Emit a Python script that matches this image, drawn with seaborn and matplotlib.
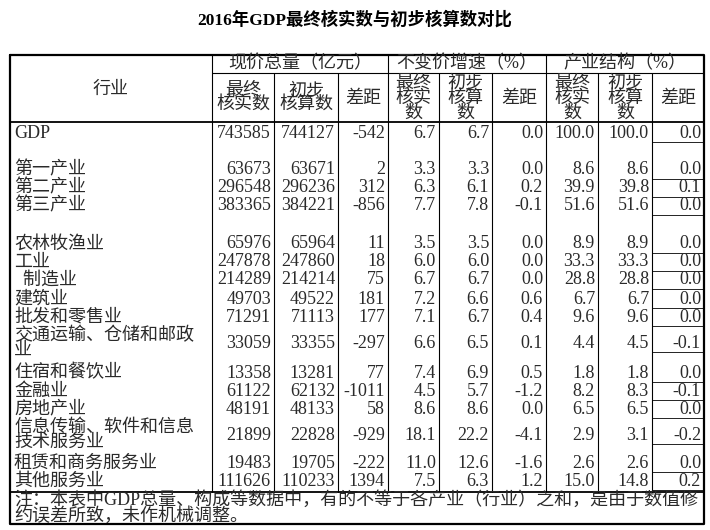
import matplotlib
matplotlib.use("Agg")
import matplotlib.pyplot as plt
import seaborn as sns

sns.set_theme(style="white")
plt.rcParams['font.family'] = ['Liberation Serif', 'Noto Sans CJK SC', 'DejaVu Sans']

title = '2016年GDP最终核实数与初步核算数对比'
industries = ['GDP', '第一产业', '第二产业', '第三产业', '农林牧渔业', '工业', '  制造业', '建筑业',
              '批发和零售业', '交通运输、仓储和邮政\n业', '住宿和餐饮业', '金融业', '房地产业',
              '信息传输、软件和信息\n技术服务业', '租赁和商务服务业', '其他服务业']
final_value = [743585, 63673, 296548, 383365, 65976, 247878, 214289, 49703, 71291, 33059, 13358, 61122, 48191, 21899, 19483, 111626]
prelim_value = [744127, 63671, 296236, 384221, 65964, 247860, 214214, 49522, 71113, 33355, 13281, 62132, 48133, 22828, 19705, 110233]
diff_value = [-542, 2, 312, -856, 11, 18, 75, 181, 177, -297, 77, -1011, 58, -929, -222, 1394]
final_growth = [6.7, 3.3, 6.3, 7.7, 3.5, 6.0, 6.7, 7.2, 7.1, 6.6, 7.4, 4.5, 8.6, 18.1, 11.0, 7.5]
prelim_growth = [6.7, 3.3, 6.1, 7.8, 3.5, 6.0, 6.7, 6.6, 6.7, 6.5, 6.9, 5.7, 8.6, 22.2, 12.6, 6.3]
diff_growth = [0.0, 0.0, 0.2, -0.1, 0.0, 0.0, 0.0, 0.6, 0.4, 0.1, 0.5, -1.2, 0.0, -4.1, -1.6, 1.2]
final_share = [100.0, 8.6, 39.9, 51.6, 8.9, 33.3, 28.8, 6.7, 9.6, 4.4, 1.8, 8.2, 6.5, 2.9, 2.6, 15.0]
prelim_share = [100.0, 8.6, 39.8, 51.6, 8.9, 33.3, 28.8, 6.7, 9.6, 4.5, 1.8, 8.3, 6.5, 3.1, 2.6, 14.8]
diff_share = [0.0, 0.0, 0.1, 0.0, 0.0, 0.0, 0.0, 0.0, 0.0, -0.1, 0.0, -0.1, 0.0, -0.2, 0.0, 0.2]
groups = ['现价总量（亿元）', '不变价增速（%）', '产业结构（%）']
sub_headers = ['最终\n核实数', '初步\n核算数', '差距']
note = '注：本表中GDP总量、构成等数据中，有的不等于各产业（行业）之和，是由于数值修\n约误差所致，未作机械调整。'

row_y = [133, 170, 188, 206, 244, 262, 280, 299, 317, 343, 373, 391, 409, 435, 463, 481]
col_x = [10, 212, 274, 338, 388, 439, 492, 546, 598, 652, 704]

fig = plt.figure(figsize=(7.1, 5.3), dpi=100)
ax = fig.add_axes([0, 0, 1, 1])
ax.set_xlim(0, 710)
ax.set_ylim(530, 0)
ax.axis('off')

kw = dict(color='#2a2a2a', fontsize=13)
ax.text(355, 20, title, ha='center', va='center', fontsize=12.5, fontweight='bold', color='black')

# frame and grid
ax.plot([10, 704, 704, 10, 10], [55, 55, 524, 524, 55], color='black', lw=1.6)
ax.plot([10, 704], [122, 122], color='black', lw=1.3)
ax.plot([10, 704], [492, 492], color='black', lw=1.3)
ax.plot([212, 704], [73, 73], color='black', lw=0.8)
for x in col_x[1:-1]:
    top = 55 if x in (212, 388, 546) else 73
    ax.plot([x, x], [top, 492], color='black', lw=0.8)
# boxes in last column
for y in row_y:
    ax.plot([652, 704], [y + 9, y + 9], color='black', lw=0.6)

ax.text(111, 89, '行业', ha='center', va='center', **kw)
for g, name in enumerate(groups):
    ax.text((col_x[1 + 3 * g] + col_x[4 + 3 * g]) / 2, 64, name, ha='center', va='center', **kw)
    for k, h in enumerate(sub_headers):
        cx = (col_x[1 + 3 * g + k] + col_x[2 + 3 * g + k]) / 2
        lab = h if g == 0 or k == 2 else h.replace('核实数', '核实\n数').replace('核算数', '核算\n数')
        ax.text(cx, 98, lab, ha='center', va='center', linespacing=0.85, **kw)

columns = [final_value, prelim_value, diff_value, final_growth, prelim_growth, diff_growth,
           final_share, prelim_share, diff_share]
for i, y in enumerate(row_y):
    ax.text(14, y, industries[i], ha='left', va='center', linespacing=0.85, **kw)
    for j, col in enumerate(columns):
        v = col[i]
        s = f'{v}' if j < 3 else f'{v:.1f}'
        ax.text(col_x[j + 2] - 3, y, s, ha='right', va='center', **kw)

ax.text(14, 508, note, ha='left', va='center', linespacing=0.85, **kw)

fig.savefig('out.png', dpi=100, facecolor='white')
